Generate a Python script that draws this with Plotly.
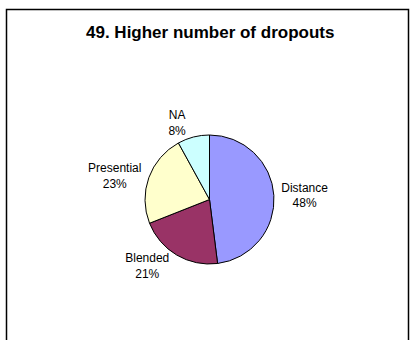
import plotly.graph_objects as go

categories = ["Distance", "Blended", "Presential", "NA"]
values = [48, 21, 23, 8]
colors = ["#9999FF", "#993366", "#FFFFCC", "#CCFFFF"]
title = "49. Higher number of dropouts"

W, H = 412, 340
cx, cy, r = 209.5, 199.5, 64.5

fig = go.Figure(go.Pie(
    labels=categories,
    values=values,
    sort=False,
    direction="clockwise",
    rotation=0,
    marker=dict(colors=colors, line=dict(color="black", width=1)),
    textinfo="label+percent",
    texttemplate="%{label}<br>%{percent:.0%}",
    textposition="outside",
    outsidetextfont=dict(family="Liberation Sans, Arial", size=12, color="black"),
    showlegend=False,
    hoverinfo="skip",
    domain=dict(x=[(cx - r) / W, (cx + r) / W], y=[(H - cy - r) / H, (H - cy + r) / H]),
))

fig.update_layout(
    width=W, height=H,
    margin=dict(l=0, r=0, t=0, b=0),
    paper_bgcolor="white",
    plot_bgcolor="white",
    font=dict(family="Liberation Sans, Arial", color="black"),
    annotations=[dict(
        text="<b>" + title + "</b>", x=210 / W, y=1 - 33 / H, xref="paper", yref="paper",
        showarrow=False, font=dict(size=17, family="Liberation Sans, Arial", color="black"),
        xanchor="center", yanchor="middle",
    )],
    shapes=[dict(type="rect", xref="paper", yref="paper",
                 x0=6.5 / W, x1=408.5 / W, y0=-0.05, y1=1 - 9.5 / H,
                 line=dict(color="black", width=1.5))],
)

fig.write_html(
    "out.html",
    config={"displayModeBar": False},
    post_script="document.body.style.margin='0';document.body.style.padding='0';",
)
